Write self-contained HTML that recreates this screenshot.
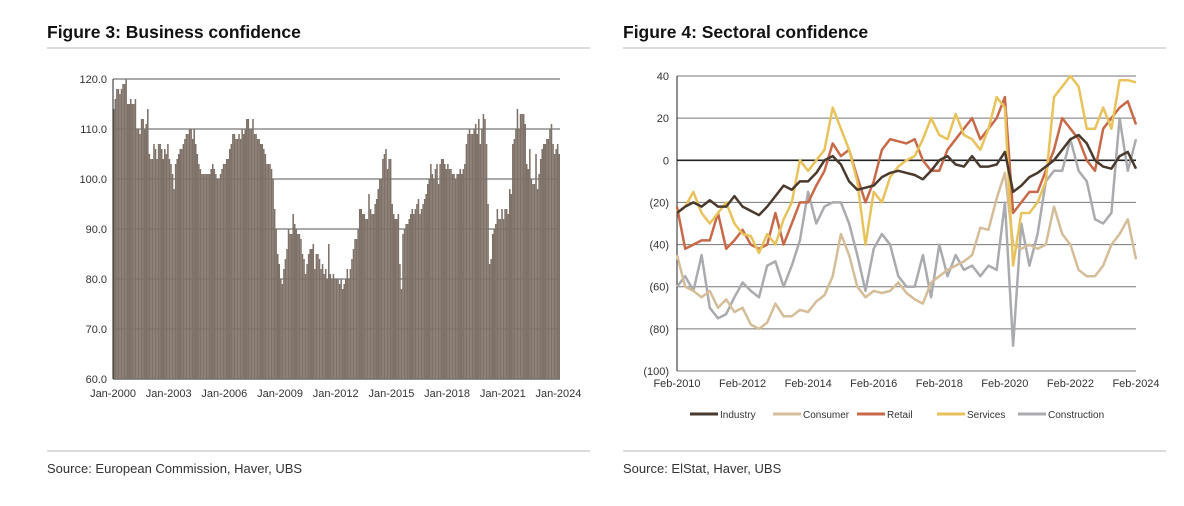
<!DOCTYPE html>
<html><head><meta charset="utf-8"><style>
body{margin:0;background:#fff;width:1184px;height:506px;overflow:hidden;font-family:"Liberation Sans",sans-serif;}
svg{position:absolute;left:0;top:0}
</style></head><body>
<svg id="s" width="1184" height="506">
<text x="47" y="38" font-size="17.5" font-weight="bold" fill="#111">Figure 3: Business confidence</text>
<line x1="47" y1="48" x2="590" y2="48" stroke="#d0d0d0" stroke-width="1.5"/>
<text x="623" y="38" font-size="17.5" font-weight="bold" fill="#111">Figure 4: Sectoral confidence</text>
<line x1="623" y1="48" x2="1166" y2="48" stroke="#d0d0d0" stroke-width="1.5"/>
<line x1="47" y1="451" x2="590" y2="451" stroke="#d0d0d0" stroke-width="1.5"/>
<line x1="623" y1="451" x2="1166" y2="451" stroke="#d0d0d0" stroke-width="1.5"/>
<text x="47" y="473" font-size="13" fill="#333">Source: European Commission, Haver, UBS</text>
<text x="623" y="473" font-size="13" fill="#333">Source: ElStat, Haver, UBS</text>
<g id="left"></g><g id="right"></g>
</svg>
<script>
const barValues=[
114,116,118,118,117,118,119,119,120,115,115,116,
115,115,116,110,110,109,112,112,110,111,114,105,
104,104,107,106,104,107,107,106,104,106,105,107,
104,103,101,98,103,104,105,106,106,107,108,109,
109,110,110,108,110,107,105,103,102,101,101,101,
101,101,101,102,103,102,101,100,100,101,102,103,
103,104,104,106,107,109,109,108,108,109,108,110,
109,110,112,112,110,110,112,109,109,108,108,107,
107,106,105,103,103,103,102,100,94,90,85,83,
80,79,82,84,86,90,89,89,93,91,90,89,
89,88,85,84,81,83,85,86,86,87,82,85,
85,84,82,83,81,82,80,87,81,80,81,80,
80,80,79,80,78,79,80,82,80,82,84,86,
88,88,90,94,94,93,93,92,92,97,94,93,
93,95,96,98,100,100,104,105,106,102,104,104,
95,93,92,92,93,83,78,89,90,91,91,92,
93,94,93,94,95,96,93,94,95,96,97,99,
100,103,101,100,102,103,99,103,104,104,103,102,
103,102,102,101,101,100,101,101,102,101,102,103,
107,109,110,109,109,110,111,109,112,107,110,113,
112,107,95,83,84,89,90,91,94,92,92,94,
92,94,94,93,98,97,107,108,110,114,110,113,
113,113,111,103,102,106,100,99,99,105,98,101,
104,106,107,107,108,108,110,111,107,105,106,107,
105];
const leftTicks=[60,70,80,90,100,110,120];
const leftXLabels=["Jan-2000","Jan-2003","Jan-2006","Jan-2009","Jan-2012","Jan-2015","Jan-2018","Jan-2021","Jan-2024"];

const seriesNames=["Industry","Consumer","Retail","Services","Construction"];
const industry=[-25,-22,-20,-22,-19,-22,-22,-17,-22,-24,-26,-22,-17,-12,-14,-10,-10,-6,0,2,-2,-10,-14,-13,-12,-8,-6,-5,-6,-7,-9,-5,0,2,-2,-3,2,-3,-3,-2,4,-15,-12,-8,-6,-3,0,5,10,12,8,0,-3,-4,2,4,-4];
const consumer=[-45,-60,-62,-65,-62,-70,-66,-72,-70,-78,-80,-77,-68,-74,-74,-71,-72,-67,-64,-55,-35,-45,-60,-65,-62,-63,-62,-58,-63,-66,-68,-58,-55,-52,-50,-48,-45,-32,-33,-18,-6,-40,-42,-40,-42,-40,-22,-35,-40,-52,-55,-55,-50,-40,-35,-28,-47];
const retail=[-22,-42,-40,-38,-38,-25,-42,-38,-33,-40,-42,-40,-25,-40,-30,-20,-20,-12,-5,8,2,5,-8,-20,-10,5,10,9,8,10,0,-5,-5,5,10,15,20,10,15,20,30,-25,-20,-15,-15,-5,5,20,15,10,0,-5,15,20,25,28,17];
const services=[-25,-22,-15,-25,-30,-25,-20,-30,-35,-36,-44,-35,-40,-28,-20,0,-5,0,5,25,15,5,-10,-40,-15,-20,-8,-3,0,2,10,20,12,10,22,12,10,5,15,30,25,-50,-25,-25,-20,-10,30,35,40,35,15,15,25,15,38,38,37];
const construction=[-60,-55,-62,-45,-70,-75,-73,-65,-58,-62,-65,-50,-48,-60,-50,-38,-15,-30,-22,-20,-20,-30,-45,-62,-42,-35,-40,-55,-60,-60,-45,-65,-40,-55,-45,-52,-50,-55,-50,-52,-20,-88,-30,-50,-35,-10,-5,-5,10,-5,-10,-28,-30,-25,20,-5,10];
const rightTicks=[40,20,0,-20,-40,-60,-80,-100];
const rightXLabels=["Feb-2010","Feb-2012","Feb-2014","Feb-2016","Feb-2018","Feb-2020","Feb-2022","Feb-2024"];

const NS="http://www.w3.org/2000/svg";
function mk(tag,attrs,parent,txt){const e=document.createElementNS(NS,tag);for(const k in attrs)e.setAttribute(k,attrs[k]);if(txt!==undefined)e.textContent=txt;parent.appendChild(e);return e;}

const L=document.getElementById('left');
const lx0=113,lx1=560,ly0=379,ly1=79;
const ly=v=>ly0-(v-60)/(120-60)*(ly0-ly1);
const bw=(lx1-lx0)/barValues.length;
leftTicks.forEach(t=>{
 const g=mk('line',{x1:lx0,x2:lx1,y1:ly(t),y2:ly(t),stroke:t===60?'#222':'#555','stroke-width':1},L);
 
 
 const tx=mk('text',{x:lx0-6,y:ly(t)+4,'font-size':11,'text-anchor':'end',fill:'#333'},L,t.toFixed(1));
 
 
});
barValues.forEach((v,i)=>{
 const r=mk('rect',{x:lx0+i*bw,y:ly(v),width:bw,height:ly0-ly(v),fill:'#7e7168'},L);
 
 
});
const la=mk('line',{x1:lx0,x2:lx0,y1:ly1,y2:ly0,stroke:'#222','stroke-width':1},L);


leftXLabels.forEach((s,i)=>{
 const x=lx0+i*36*bw;
 const t=mk('text',{x:x,y:397,'font-size':11,'text-anchor':'middle',fill:'#333'},L,s);
 
 
});

const R=document.getElementById('right');
const rx0=677,rx1=1136,ry0=371,ry1=76;
const ry=v=>ry0-(v+100)/140*(ry0-ry1);
const n=industry.length;
const rx=i=>rx0+i/(n-1)*(rx1-rx0);
rightTicks.forEach(t=>{
 const g=mk('line',{x1:rx0,x2:rx1,y1:ry(t),y2:ry(t),stroke:t===0?'#222':'#777','stroke-width':t===0?1.6:1},R);
 
 
 const lab=t<0?'('+(-t)+')':String(t);
 const tx=mk('text',{x:rx0-8,y:ry(t)+4,'font-size':11,'text-anchor':'end',fill:'#333'},R,lab);
 
 
});
const ra=mk('line',{x1:rx0,x2:rx0,y1:ry1,y2:ry0,stroke:'#222','stroke-width':1},R);


rightXLabels.forEach((s,i)=>{
 const t=mk('text',{x:rx0+i*(rx1-rx0)/7,y:387,'font-size':11,'text-anchor':'middle',fill:'#333'},R,s);
 
 
});
const colors=['#4a3a2e','#d4bd98','#c8694a','#e8c25a','#a9abae'];
const data=[industry,consumer,retail,services,construction];
[4,1,2,3,0].forEach(k=>{
 const d=data[k].map((v,i)=>(i?'L':'M')+rx(i).toFixed(1)+','+ry(v).toFixed(1)).join('');
 const p=mk('path',{d:d,fill:'none',stroke:colors[k],'stroke-width':2.5,'stroke-linejoin':'round'},R);
 
 
});
const legX=[690,773,857,937,1018];
seriesNames.forEach((s,k)=>{
 const g=mk('g',{},R);
 
 
 mk('line',{x1:legX[k],x2:legX[k]+28,y1:414,y2:414,stroke:colors[k],'stroke-width':3},g);
 mk('text',{x:legX[k]+30,y:418,'font-size':10,fill:'#333'},g,s);
});
</script>
</body></html>
